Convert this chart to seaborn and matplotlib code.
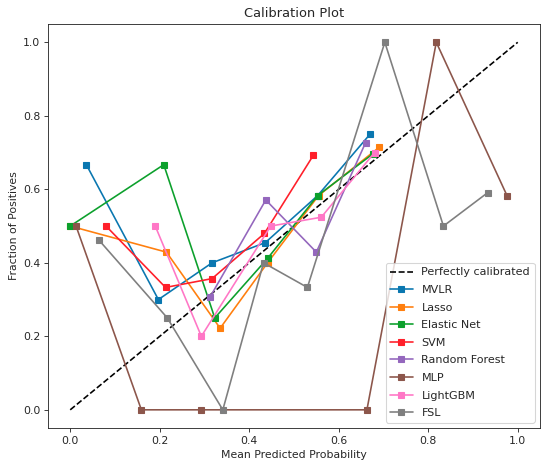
import matplotlib
matplotlib.use("Agg")
import matplotlib.pyplot as plt
import seaborn as sns
import pandas as pd

sns.set_style("ticks")
plt.rcParams['font.family'] = ['DejaVu Sans']

models = ["MVLR", "Lasso", "Elastic Net", "SVM", "Random Forest", "MLP", "LightGBM", "FSL"]
colors = ["#0a77b0", "#ff7f0e", "#0ca02c", "#ff1f2a", "#9467bd", "#8c564b", "#ff77c6", "#7f7f7f"]

mvlr_x = [0.036, 0.197, 0.317, 0.436, 0.553, 0.670]
mvlr_y = [0.667, 0.300, 0.400, 0.455, 0.583, 0.750]
lasso_x = [0.000, 0.215, 0.335, 0.441, 0.555, 0.690]
lasso_y = [0.500, 0.429, 0.222, 0.400, 0.583, 0.714]
enet_x = [0.000, 0.209, 0.323, 0.441, 0.553, 0.677]
enet_y = [0.500, 0.667, 0.250, 0.412, 0.583, 0.697]
svm_x = [0.080, 0.213, 0.317, 0.434, 0.543]
svm_y = [0.500, 0.333, 0.357, 0.480, 0.692]
rf_x = [0.313, 0.437, 0.550, 0.660]
rf_y = [0.308, 0.571, 0.429, 0.727]
mlp_x = [0.013, 0.159, 0.293, 0.663, 0.818, 0.976]
mlp_y = [0.500, 0.000, 0.000, 0.000, 1.000, 0.583]
lgbm_x = [0.190, 0.293, 0.448, 0.561, 0.680]
lgbm_y = [0.500, 0.200, 0.500, 0.524, 0.700]
fsl_x = [0.064, 0.217, 0.341, 0.432, 0.530, 0.703, 0.834, 0.933]
fsl_y = [0.462, 0.250, 0.000, 0.400, 0.333, 1.000, 0.500, 0.591]

series_x = [mvlr_x, lasso_x, enet_x, svm_x, rf_x, mlp_x, lgbm_x, fsl_x]
series_y = [mvlr_y, lasso_y, enet_y, svm_y, rf_y, mlp_y, lgbm_y, fsl_y]

diag = [0.0, 1.0]

DPI = 78
fig, ax = plt.subplots(figsize=(550 / DPI, 469 / DPI), dpi=DPI)
fig.subplots_adjust(left=0.087, right=0.982, bottom=0.087, top=0.949)

ax.plot(diag, diag, "k--", lw=1.5, label="Perfectly calibrated")
for name, c, xs, ys in zip(models, colors, series_x, series_y):
    df = pd.DataFrame({"x": xs, "y": ys})
    sns.lineplot(data=df, x="x", y="y", ax=ax, color=c, marker="s", markersize=6,
                 markeredgewidth=1, markeredgecolor=c, lw=1.5, sort=False,
                 estimator=None, label=name)

ax.set_title("Calibration Plot")
ax.set_xlabel("Mean Predicted Probability")
ax.set_ylabel("Fraction of Positives")
ax.set_xticks([0.0, 0.2, 0.4, 0.6, 0.8, 1.0])
ax.set_yticks([0.0, 0.2, 0.4, 0.6, 0.8, 1.0])
ax.legend(loc="lower right", fontsize=10.3, labelspacing=0.68)
for s in ax.spines.values():
    s.set_visible(True)
fig.savefig("out.png", dpi=DPI)
